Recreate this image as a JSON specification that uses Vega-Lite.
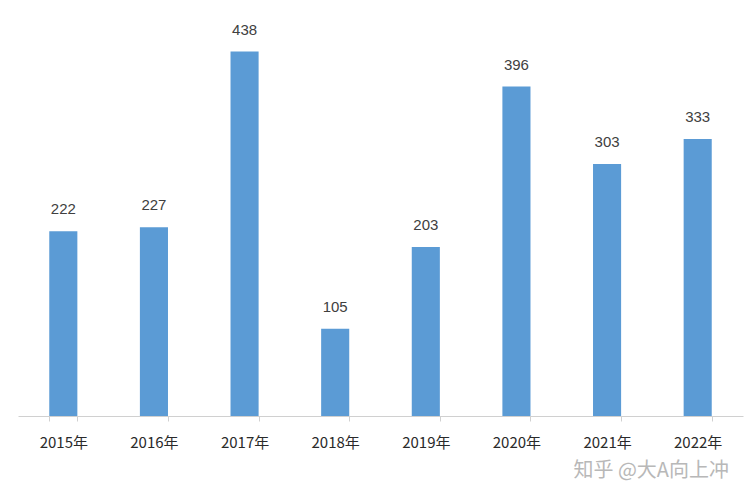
{
  "$schema": "https://vega.github.io/schema/vega-lite/v6.json",
  "width": 725,
  "height": 416,
  "autosize": "none",
  "padding": {"left": 18, "top": 0, "right": 5, "bottom": 84},
  "background": "white",
  "title": {
    "text": "知乎 @大A向上冲",
    "orient": "bottom",
    "anchor": "end",
    "font": "Noto Sans CJK SC",
    "fontSize": 20,
    "fontWeight": "normal",
    "color": "#b8b8b8",
    "offset": 11,
    "dx": -14
  },
  "data": {
    "values": [
      {"year": "2015年", "value": 222},
      {"year": "2016年", "value": 227},
      {"year": "2017年", "value": 438},
      {"year": "2018年", "value": 105},
      {"year": "2019年", "value": 203},
      {"year": "2020年", "value": 396},
      {"year": "2021年", "value": 303},
      {"year": "2022年", "value": 333}
    ]
  },
  "encoding": {
    "x": {
      "field": "year",
      "type": "nominal",
      "sort": null,
      "title": null,
      "scale": {"paddingInner": 0.69, "paddingOuter": 0.345},
      "axis": {
        "labelAngle": 0,
        "labelFont": "Noto Sans CJK SC",
        "labelFontSize": 15,
        "labelColor": "#2a2a2a",
        "labelPadding": 14,
        "domainColor": "#d0d0d0",
        "tickColor": "#d0d0d0",
        "tickBand": "extent",
        "tickSize": 5
      }
    },
    "y": {
      "field": "value",
      "type": "quantitative",
      "scale": {"domain": [0, 500], "nice": false},
      "axis": null
    }
  },
  "layer": [
    {"mark": {"type": "bar", "color": "#5B9BD5"}},
    {
      "mark": {"type": "text", "dy": -22, "font": "Liberation Sans", "fontSize": 15, "color": "#404040"},
      "encoding": {"text": {"field": "value", "type": "quantitative"}}
    }
  ],
  "config": {"view": {"stroke": null}}
}
